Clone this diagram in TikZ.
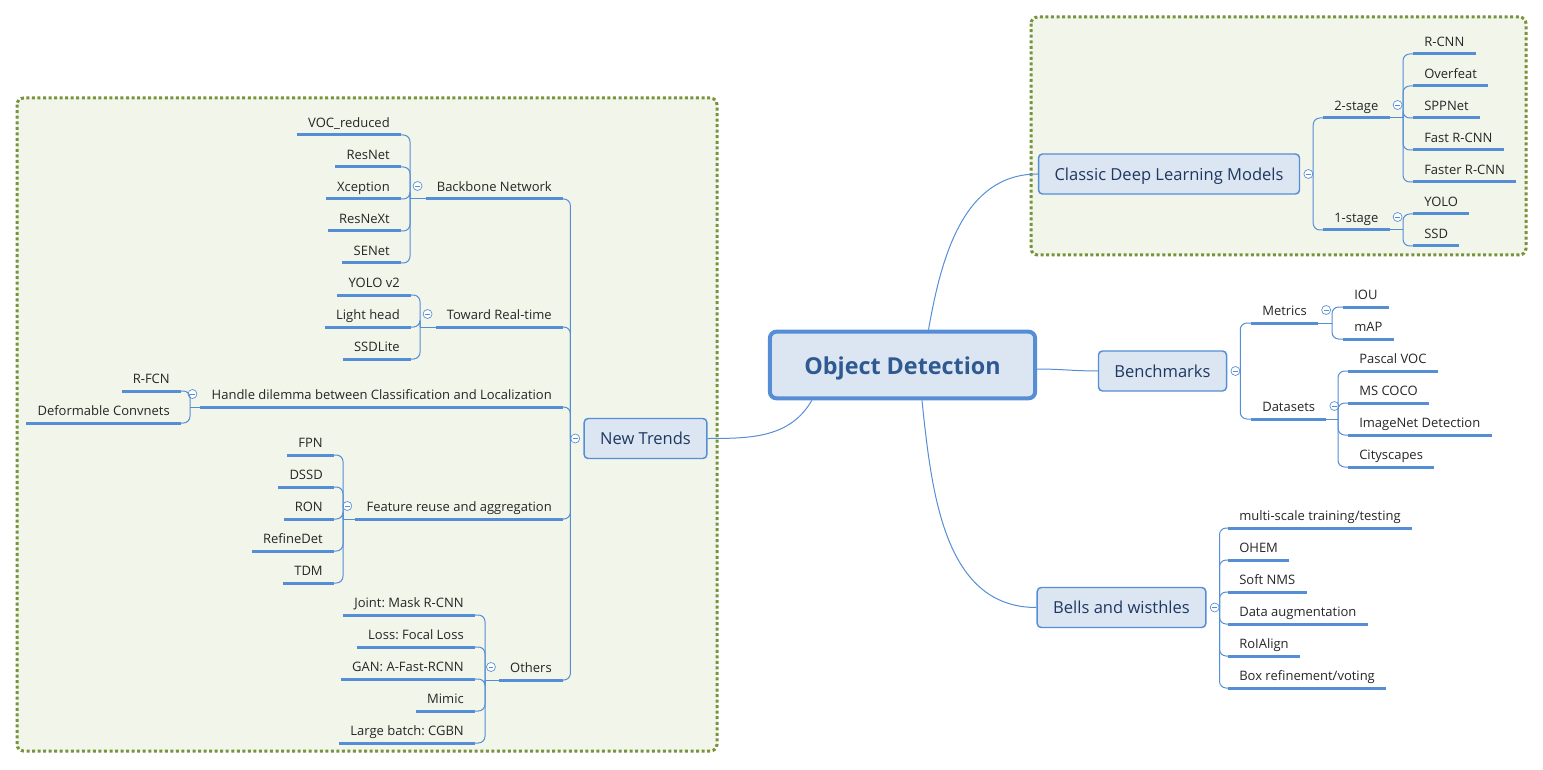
\documentclass[tikz,border=0pt]{standalone}
\usepackage{fontspec}
\setmainfont{Open Sans}
\usetikzlibrary{positioning, calc}

\definecolor{lineblue}{RGB}{85,142,213}
\definecolor{boxfill}{RGB}{220,230,242}
\definecolor{zonefill}{RGB}{242,245,234}
\definecolor{zoneline}{RGB}{119,147,60}
\definecolor{topictext}{RGB}{31,56,96}
\definecolor{roottext}{RGB}{47,89,145}
\frenchspacing

\begin{document}
\begin{tikzpicture}[
    x=0.75pt, y=-0.75pt,
    zone/.style={fill=zonefill, draw=zoneline, line width=2.25pt, dash pattern=on 2.25pt off 1.9pt, rounded corners=5pt},
    root/.style={draw=lineblue, fill=boxfill, line width=3pt, rounded corners=5pt, minimum width=199pt, minimum height=50pt, text height=15pt, text depth=1pt, font=\fontsize{17.5}{20}\selectfont\bfseries, text=roottext},
    topic/.style={draw=lineblue, fill=boxfill, line width=1.1pt, rounded corners=3pt, minimum height=30pt, inner xsep=12pt, text height=11pt, text depth=1.7pt, font=\fontsize{12.4}{15}\selectfont, text=topictext},
    leaf/.style={font=\fontsize{9.75}{12}\selectfont, text=black!85, text height=7.3pt, text depth=2.3pt, minimum height=16.5pt, inner xsep=8.25pt, inner ysep=0pt},
    rleaf/.style={leaf, anchor=south west},
    lleaf/.style={leaf, anchor=south east},
    uline/.style={draw=lineblue, line width=2.25pt},
    branch/.style={draw=lineblue, line width=0.75pt, rounded corners=5pt},
    link/.style={draw=lineblue, line width=0.75pt},
    fold/.style={circle, draw=lineblue, fill=white, line width=0.5pt, inner sep=0pt, minimum size=6.75pt,
      path picture={\draw[lineblue, line width=0.5pt] ([xshift=-1.8pt]path picture bounding box.center) -- ([xshift=1.8pt]path picture bounding box.center);}}
  ]
  \useasboundingbox (0,0) rectangle (1543,770);
  \draw[zone] (1031,17) rectangle (1526,255);
  \draw[zone] (17,98) rectangle (717,751);

  \node[root] (od) at (902.5,365) {Object Detection};
  \node[topic] (classic) at (1169,174) {Classic Deep Learning Models};
  \node[topic] (bench) at (1162.5,371) {Benchmarks};
  \node[topic] (bells) at (1121.5,607.5) {Bells and wisthles};
  \node[topic] (trends) at (645.5,438.5) {New Trends};

  \node[fold, right=2.5pt of classic] (fc) {};
  \node[fold, right=2.5pt of bench] (fb) {};
  \node[fold, right=2.5pt of bells] (fw) {};
  \node[fold, left=2.5pt of trends] (ft) {};

  % classic models
  \node[rleaf] (twostage) at (1323,118) {2-stage};
  \node[rleaf] (onestage) at (1323,230) {1-stage};
  \node[rleaf] (rcnn) at (1413,54) {R-CNN};
  \node[rleaf] (overfeat) at (1413,86) {Overfeat};
  \node[rleaf] (sppnet) at (1413,118) {SPPNet};
  \node[rleaf] (fastrcnn) at (1413,150) {Fast R-CNN};
  \node[rleaf] (fasterrcnn) at (1413,182) {Faster R-CNN};
  \node[rleaf] (yolo) at (1413,214) {YOLO};
  \node[rleaf] (ssd) at (1413,246) {SSD};

  % benchmarks
  \node[rleaf] (metrics) at (1251,323) {Metrics};
  \node[rleaf] (datasets) at (1251,419) {Datasets};
  \node[rleaf] (iou) at (1343,307) {IOU};
  \node[rleaf] (map) at (1343,339) {mAP};
  \node[rleaf] (pascal) at (1348,371) {Pascal VOC};
  \node[rleaf] (coco) at (1348,403) {MS COCO};
  \node[rleaf] (imagenet) at (1348,435) {ImageNet Detection};
  \node[rleaf] (cityscapes) at (1348,467) {Cityscapes};

  % bells and whistles
  \node[rleaf] (multiscale) at (1228,528) {multi-scale training/testing};
  \node[rleaf] (ohem) at (1228,560) {OHEM};
  \node[rleaf] (softnms) at (1228,592) {Soft NMS};
  \node[rleaf] (dataaug) at (1228,624) {Data augmentation};
  \node[rleaf] (roialign) at (1228,656) {RoIAlign};
  \node[rleaf] (boxref) at (1228,688) {Box refinement/voting};

  % new trends
  \node[lleaf] (backbone) at (563,199) {Backbone Network};
  \node[lleaf] (realtime) at (563,327) {Toward Real-time};
  \node[lleaf] (dilemma) at (563,407) {Handle dilemma between Classification and Localization};
  \node[lleaf] (reuse) at (563,519) {Feature reuse and aggregation};
  \node[lleaf] (others) at (563,680) {Others};
  \node[lleaf] (voc) at (401,135) {VOC\_reduced};
  \node[lleaf] (resnet) at (401,167) {ResNet};
  \node[lleaf] (xception) at (401,199) {Xception};
  \node[lleaf] (resnext) at (401,231) {ResNeXt};
  \node[lleaf] (senet) at (401,263) {SENet};
  \node[lleaf] (yolov2) at (411,295) {YOLO v2};
  \node[lleaf] (lighthead) at (411,327) {Light head};
  \node[lleaf] (ssdlite) at (411,359) {SSDLite};
  \node[lleaf] (rfcn) at (181,391) {R-FCN};
  \node[lleaf] (deformable) at (181,423) {Deformable Convnets};
  \node[lleaf] (fpn) at (334,455) {FPN};
  \node[lleaf] (dssd) at (334,487) {DSSD};
  \node[lleaf] (ron) at (334,519) {RON};
  \node[lleaf] (refinedet) at (334,551) {RefineDet};
  \node[lleaf] (tdm) at (334,583) {TDM};
  \node[lleaf] (joint) at (475,615) {Joint: Mask R-CNN};
  \node[lleaf] (focal) at (475,647) {Loss: Focal Loss};
  \node[lleaf] (gan) at (475,679) {GAN: A-Fast-RCNN};
  \node[lleaf] (mimic) at (475,711) {Mimic};
  \node[lleaf] (cgbn) at (475,743) {Large batch: CGBN};

  \foreach \n in {twostage, onestage, metrics, datasets}
    \node[fold] (f\n) at ([xshift=6pt, yshift=9.75pt]\n.south east) {};
  \foreach \n in {backbone, realtime, dilemma, reuse, others}
    \node[fold] (f\n) at ([xshift=-6pt, yshift=9.75pt]\n.south west) {};

  \coordinate (jtwo) at (1403,118);
  \coordinate (jone) at (1403,230);
  \coordinate (jmet) at (1332,323);
  \coordinate (jdat) at (1338,419);
  \coordinate (jback) at (410,199);
  \coordinate (jreal) at (420,327);
  \coordinate (jdil) at (190,407);
  \coordinate (jreuse) at (343,519);
  \coordinate (joth) at (485,680);

  \draw[link] ([xshift=19.5pt]od.north) to[out=80, in=180] (classic.west);
  \draw[link] ([yshift=-3pt]od.east) to[out=0, in=180] (bench.west);
  \draw[link] ([xshift=14.6pt]od.south) to[out=-84, in=180] (bells.west);
  \draw[link] ([xshift=-68pt]od.south) to[out=240, in=0] (trends.east);

  \foreach \c in {twostage, onestage} \draw[branch] (fc.east) |- (\c.south west);
  \foreach \c in {metrics, datasets} \draw[branch] (fb.east) |- (\c.south west);
  \foreach \c in {multiscale, ohem, softnms, dataaug, roialign, boxref} \draw[branch] (fw.east) |- (\c.south west);
  \foreach \c in {backbone, realtime, dilemma, reuse, others} \draw[branch] (ft.west) |- (\c.south east);

  \draw[link] (twostage.south east) -- (jtwo);
  \draw[link] (onestage.south east) -- (jone);
  \draw[link] (metrics.south east) -- (jmet);
  \draw[link] (datasets.south east) -- (jdat);
  \draw[link] (backbone.south west) -- (jback);
  \draw[link] (realtime.south west) -- (jreal);
  \draw[link] (dilemma.south west) -- (jdil);
  \draw[link] (reuse.south west) -- (jreuse);
  \draw[link] (others.south west) -- (joth);

  \foreach \c in {rcnn, overfeat, sppnet, fastrcnn, fasterrcnn} \draw[branch] (jtwo) |- (\c.south west);
  \foreach \c in {yolo, ssd} \draw[branch] (jone) |- (\c.south west);
  \foreach \c in {iou, map} \draw[branch] (jmet) |- (\c.south west);
  \foreach \c in {pascal, coco, imagenet, cityscapes} \draw[branch] (jdat) |- (\c.south west);
  \foreach \c in {voc, resnet, xception, resnext, senet} \draw[branch] (jback) |- (\c.south east);
  \foreach \c in {yolov2, lighthead, ssdlite} \draw[branch] (jreal) |- (\c.south east);
  \foreach \c in {rfcn, deformable} \draw[branch] (jdil) |- (\c.south east);
  \foreach \c in {fpn, dssd, ron, refinedet, tdm} \draw[branch] (jreuse) |- (\c.south east);
  \foreach \c in {joint, focal, gan, mimic, cgbn} \draw[branch] (joth) |- (\c.south east);

  \foreach \n in {twostage, onestage, rcnn, overfeat, sppnet, fastrcnn, fasterrcnn, yolo, ssd,
      metrics, datasets, iou, map, pascal, coco, imagenet, cityscapes,
      multiscale, ohem, softnms, dataaug, roialign, boxref,
      backbone, realtime, dilemma, reuse, others, voc, resnet, xception, resnext, senet,
      yolov2, lighthead, ssdlite, rfcn, deformable, fpn, dssd, ron, refinedet, tdm,
      joint, focal, gan, mimic, cgbn}
    \draw[uline] (\n.south west) -- (\n.south east);
\end{tikzpicture}
\end{document}
